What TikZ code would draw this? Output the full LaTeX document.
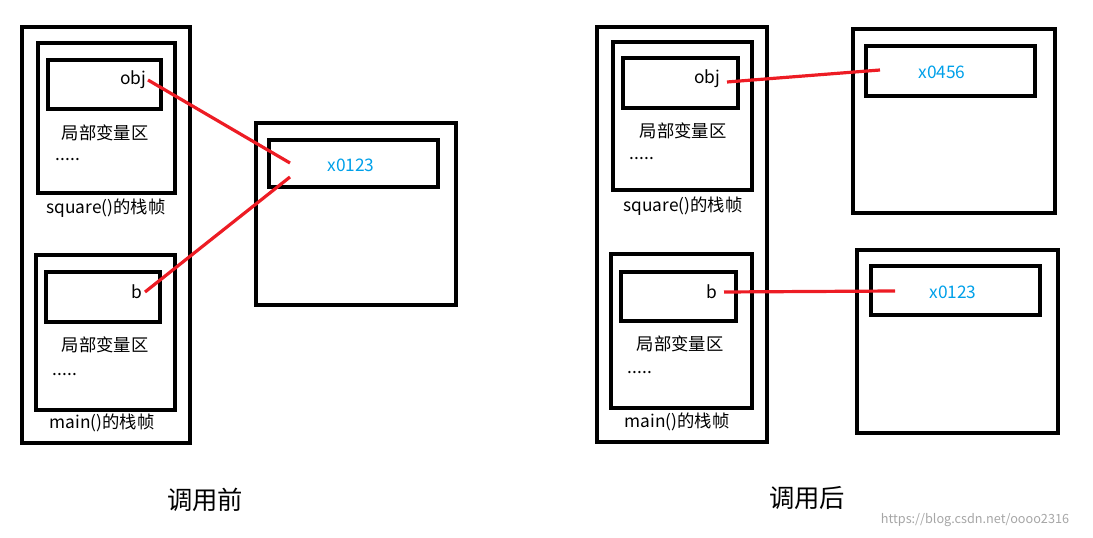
\documentclass[tikz,border=0pt]{standalone}
\usepackage{fontspec}
\setmainfont{Noto Sans CJK SC}
\definecolor{lblue}{RGB}{0,160,233}
\definecolor{lred}{RGB}{237,28,36}
\begin{document}
\begin{tikzpicture}[x=0.75pt,y=-0.75pt,
  bx/.style={draw=black,line width=3pt},
  lbl/.style={font=\fontsize{13pt}{15pt}\selectfont,inner sep=0pt},
  val/.style={lbl,text=lblue},
  big/.style={font=\fontsize{19pt}{22pt}\selectfont,inner sep=0pt},
  link/.style={draw=lred,line width=2.4pt}]
\useasboundingbox (0,0) rectangle (1093,538);
% left
\draw[bx] (22,27) rectangle (190,443);
\draw[bx] (38,43) rectangle (175,193);
\draw[bx] (48,60) rectangle (161,109);
\node[lbl] (obj1) at (133,80) {obj};
\node[lbl] (l1) at (105,133) {局部变量区};
\node[lbl] (d1) at (68,160) {.....};
\node[lbl] (sq1) at (106,208) {square()的栈帧};
\draw[bx] (36,255) rectangle (175,410);
\draw[bx] (46,272) rectangle (160,322);
\node[lbl] (b1) at (137,292) {b};
\node[lbl] (l2) at (105,345) {局部变量区};
\node[lbl] (d2) at (65,375) {.....};
\node[lbl] (m1) at (102,423) {main()的栈帧};
\draw[bx] (256,123) rectangle (456,305);
\draw[bx] (269,140) rectangle (438,187);
\node[val] (x1) at (351,165) {x0123};
\coordinate (o1) at (148,80); \coordinate (t1) at (290,163);
\coordinate (bb1) at (145,292); \coordinate (t2) at (290,177);
\draw[link] (o1) -- (t1);
\draw[link] (bb1) -- (t2);
\node[big] (c1) at (205,500) {调用前};
% right
\draw[bx] (597,27) rectangle (767,442);
\draw[bx] (613,42) rectangle (752,190);
\draw[bx] (623,58) rectangle (738,108);
\node[lbl] (obj2) at (707,79) {obj};
\node[lbl] (l3) at (683,131) {局部变量区};
\node[lbl] (d3) at (642,159) {.....};
\node[lbl] (sq2) at (683,206) {square()的栈帧};
\draw[bx] (611,254) rectangle (752,408);
\draw[bx] (621,272) rectangle (736,321);
\node[lbl] (b2) at (712,292) {b};
\node[lbl] (l4) at (680,344) {局部变量区};
\node[lbl] (d4) at (640,373) {.....};
\node[lbl] (m2) at (677,422) {main()的栈帧};
\draw[bx] (853,29) rectangle (1055,213);
\draw[bx] (866,46) rectangle (1035,96);
\node[val] (x2) at (942,72) {x0456};
\draw[bx] (857,250) rectangle (1058,433);
\draw[bx] (871,266) rectangle (1040,315);
\node[val] (x3) at (953,292) {x0123};
\coordinate (o2) at (727,82); \coordinate (t3) at (880,70);
\coordinate (bb2) at (724,292); \coordinate (t4) at (895,291);
\draw[link] (o2) -- (t3);
\draw[link] (bb2) -- (t4);
\node[big] (c2) at (807,498) {调用后};
\node[font=\fontsize{9.5pt}{11pt}\selectfont,text=black!35,inner sep=0pt] (wm) at (975,520) {https://blog.csdn.net/oooo2316};
\end{tikzpicture}
\end{document}
